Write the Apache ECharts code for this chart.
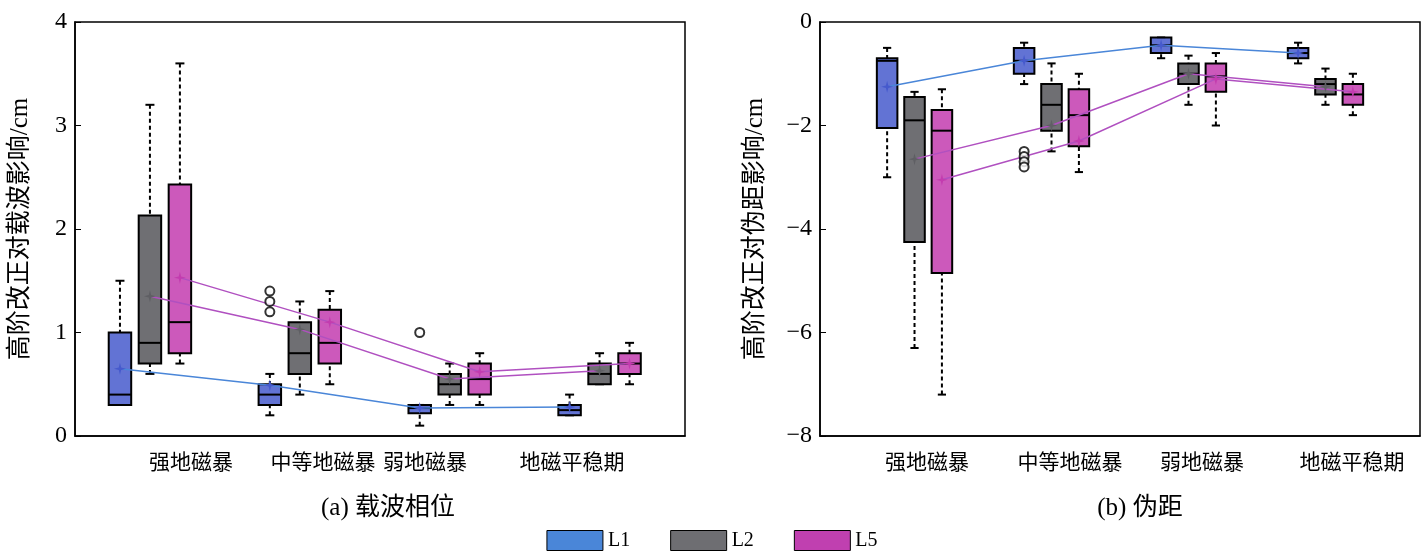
<!DOCTYPE html>
<html>
<head>
<meta charset="utf-8">
<script src="https://cdn.jsdelivr.net/npm/echarts@6/dist/echarts.min.js"></script>
<style>html,body{margin:0;background:#fff}#main{width:1424px;height:558px}</style>
</head>
<body>
<div id="main"></div>
<script>
var categories = ['强地磁暴', '中等地磁暴', '弱地磁暴', '地磁平稳期'];
var bands = ['L1', 'L2', 'L5'];
// [min, q1, median, q3, max] per category
var phaseL1 = [[0.3, 0.3, 0.4, 1.0, 1.5], [0.2, 0.3, 0.4, 0.5, 0.6], [0.1, 0.22, 0.27, 0.3, 0.3], [0.2, 0.2, 0.25, 0.3, 0.4]];
var phaseL2 = [[0.6, 0.7, 0.9, 2.13, 3.2], [0.4, 0.6, 0.8, 1.1, 1.3], [0.3, 0.4, 0.5, 0.6, 0.7], [0.5, 0.5, 0.6, 0.7, 0.8]];
var phaseL5 = [[0.7, 0.8, 1.1, 2.43, 3.6], [0.5, 0.7, 0.9, 1.22, 1.4], [0.3, 0.4, 0.55, 0.7, 0.8], [0.5, 0.6, 0.7, 0.8, 0.9]];
var phaseMeanL1 = [0.65, 0.49, 0.27, 0.28];
var phaseMeanL2 = [1.35, 1.03, 0.55, 0.63];
var phaseMeanL5 = [1.53, 1.1, 0.62, 0.7];
var phaseOutliers = [[2, 0, 1.2], [2, 0, 1.3], [2, 0, 1.4], [3, 0, 1.0]]; // [category, band, value]

var rangeL1 = [[-3.0, -2.05, -0.75, -0.7, -0.5], [-1.2, -1.0, -0.75, -0.5, -0.4], [-0.7, -0.6, -0.45, -0.3, -0.3], [-0.8, -0.7, -0.6, -0.5, -0.4]];
var rangeL2 = [[-6.3, -4.25, -1.9, -1.45, -1.35], [-2.5, -2.1, -1.6, -1.2, -0.8], [-1.6, -1.2, -1.0, -0.8, -0.65], [-1.6, -1.4, -1.2, -1.1, -0.9]];
var rangeL5 = [[-7.2, -4.85, -2.1, -1.7, -1.3], [-2.9, -2.4, -1.8, -1.3, -1.0], [-2.0, -1.35, -1.05, -0.8, -0.6], [-1.8, -1.6, -1.4, -1.2, -1.0]];
var rangeMeanL1 = [-1.25, -0.75, -0.45, -0.6];
var rangeMeanL2 = [-2.65, -2.0, -1.0, -1.25];
var rangeMeanL5 = [-3.05, -2.3, -1.1, -1.35];
var rangeOutliers = [[2, 0, -2.5], [2, 0, -2.6], [2, 0, -2.7], [2, 0, -2.8]];

var fills = ['rgba(70,90,205,0.85)', 'rgba(95,95,100,0.9)', 'rgba(195,60,175,0.85)'];
var lineColors = ['#4a86d8', '#b050c0', '#b050c0'];
var legendColors = ['#4a86d8', '#6e6e72', '#c040b0'];
var font = '"Liberation Serif", "Noto Sans CJK SC", serif';

function boxSeries(name, data, offset, k, idx) {
  return {
    name: name, type: 'custom', xAxisIndex: idx, yAxisIndex: idx,
    itemStyle: {color: legendColors[k]},
    data: data.map(function (d, i) { return [i + 1 + offset].concat(d); }),
    renderItem: function (params, api) {
      var x = api.value(0), hw = 0.075;
      var p = function (xx, v) { return api.coord([xx, api.value(v)]); };
      var lo = p(x, 1), q1 = p(x, 2), q3 = p(x, 4), hi = p(x, 5);
      var l = api.coord([x - hw, 0])[0], r = api.coord([x + hw, 0])[0];
      var cl = api.coord([x - hw * 0.4, 0])[0], cr = api.coord([x + hw * 0.4, 0])[0];
      var med = p(x, 3)[1];
      var dash = {stroke: '#000', lineWidth: 2, lineDash: [4, 3]};
      var solid = {stroke: '#000', lineWidth: 2};
      return {type: 'group', children: [
        {type: 'line', shape: {x1: hi[0], y1: hi[1], x2: q3[0], y2: q3[1]}, style: dash},
        {type: 'line', shape: {x1: lo[0], y1: lo[1], x2: q1[0], y2: q1[1]}, style: dash},
        {type: 'line', shape: {x1: cl, y1: hi[1], x2: cr, y2: hi[1]}, style: solid},
        {type: 'line', shape: {x1: cl, y1: lo[1], x2: cr, y2: lo[1]}, style: solid},
        {type: 'rect', shape: {x: l, y: q3[1], width: r - l, height: q1[1] - q3[1]}, style: {fill: fills[k], stroke: '#000', lineWidth: 2}},
        {type: 'line', shape: {x1: l, y1: med, x2: r, y2: med}, style: solid}
      ]};
    }
  };
}
function meanSeries(means, offset, k, idx) {
  return {
    type: 'line', xAxisIndex: idx, yAxisIndex: idx, symbol: 'path://M0,-10L2,-2L10,0L2,2L0,10L-2,2L-10,0L-2,-2Z', symbolSize: 12,
    lineStyle: {color: lineColors[k], width: 1.5}, itemStyle: {color: fills[k].replace(/0\.\d+\)/, '1)')}, z: 5,
    data: means.map(function (v, i) { return [i + 1 + offset, v]; })
  };
}
function outlierSeries(list, idx) {
  var off = [-0.2, 0, 0.2];
  return {
    type: 'scatter', xAxisIndex: idx, yAxisIndex: idx, symbol: 'emptyCircle', symbolSize: 9,
    itemStyle: {color: '#000', borderWidth: 2.5}, z: 6,
    data: list.map(function (o) { return [o[0] + off[o[1]], o[2]]; })
  };
}

var offsets = [-0.2, 0, 0.2];
var series = [];
[[phaseL1, phaseL2, phaseL5], [rangeL1, rangeL2, rangeL5]].forEach(function (set, idx) {
  set.forEach(function (d, k) { series.push(boxSeries(bands[k], d, offsets[k], k, idx)); });
});
[[phaseMeanL1, phaseMeanL2, phaseMeanL5], [rangeMeanL1, rangeMeanL2, rangeMeanL5]].forEach(function (set, idx) {
  set.forEach(function (m, k) { series.push(meanSeries(m, offsets[k], k, idx)); });
});
series.push(outlierSeries(phaseOutliers, 0));
series.push(outlierSeries(rangeOutliers, 1));

var axisCommon = {
  axisLine: {onZero: false, lineStyle: {color: '#000', width: 1.5}},
  axisTick: {inside: true, length: 6, lineStyle: {color: '#000'}},
  splitLine: {show: false}
};
var catLabelX = [[191, 323, 425, 572], [927, 1070, 1202, 1352]];
var graphics = [];
catLabelX.forEach(function (xs) {
  xs.forEach(function (x, i) {
    graphics.push({type: 'text', x: x, y: 463, style: {text: categories[i], font: '21px ' + font, fill: '#000', textAlign: 'center', textVerticalAlign: 'middle'}});
  });
});
graphics.push({type: 'text', x: 388, y: 508, style: {text: '(a) 载波相位', font: '25px ' + font, fill: '#000', textAlign: 'center', textVerticalAlign: 'middle'}});
graphics.push({type: 'text', x: 1140, y: 508, style: {text: '(b) 伪距', font: '25px ' + font, fill: '#000', textAlign: 'center', textVerticalAlign: 'middle'}});

var myChart = echarts.init(document.getElementById('main'));
var option = {
  backgroundColor: '#fff',
  animation: false,
  textStyle: {fontFamily: font},
  grid: [
    {left: 75, top: 22, width: 610, height: 414, show: true, borderColor: '#000', borderWidth: 1.5},
    {left: 820, top: 22, width: 600, height: 414, show: true, borderColor: '#000', borderWidth: 1.5}
  ],
  xAxis: [
    Object.assign({type: 'value', gridIndex: 0, min: 0.5, max: 4.57, axisLabel: {show: false}}, axisCommon, {axisTick: {show: false}}),
    Object.assign({type: 'value', gridIndex: 1, min: 0.31, max: 4.69, axisLabel: {show: false}}, axisCommon, {axisTick: {show: false}})
  ],
  yAxis: [
    Object.assign({type: 'value', gridIndex: 0, min: 0, max: 4, interval: 1, name: '高阶改正对载波影响/cm', nameLocation: 'middle', nameGap: 42,
      nameTextStyle: {fontSize: 25, color: '#000', fontFamily: font}, axisLabel: {fontSize: 24, color: '#000', fontFamily: font}}, axisCommon),
    Object.assign({type: 'value', gridIndex: 1, min: -8, max: 0, interval: 2, name: '高阶改正对伪距影响/cm', nameLocation: 'middle', nameGap: 52,
      nameTextStyle: {fontSize: 25, color: '#000', fontFamily: font}, axisLabel: {fontSize: 24, color: '#000', fontFamily: font, formatter: function (v) { return String(v).replace('-', '−'); }}}, axisCommon)
  ],
  legend: {
    data: bands, bottom: 2, left: 'center', itemWidth: 56, itemHeight: 20, itemGap: 40, icon: 'rect',
    textStyle: {fontSize: 20, color: '#000', fontFamily: font},
    itemStyle: {borderColor: '#000', borderWidth: 1}
  },
  graphic: graphics,
  series: series
};
myChart.setOption(option);
</script>
</body>
</html>
